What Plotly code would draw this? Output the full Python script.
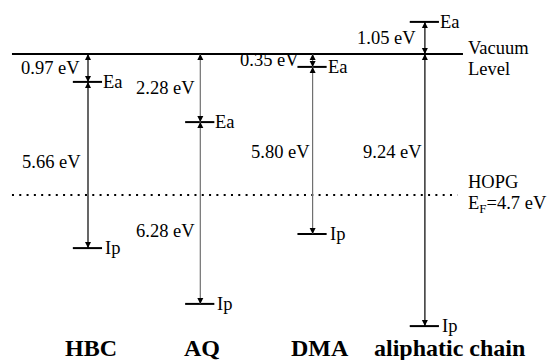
import plotly.graph_objects as go

# ---- data (energies in eV relative to the vacuum level, as drawn) ----
molecules = ["HBC", "AQ", "DMA", "aliphatic chain"]
ea_level = [-0.93, -2.27, -0.43, 1.07]
ip_level = [-6.47, -8.33, -6.00, -9.07]
ea_text = ["0.97 eV", "2.28 eV", "0.35 eV", "1.05 eV"]
gap_text = ["5.66 eV", "6.28 eV", "5.80 eV", "9.24 eV"]
vacuum_level = 0.0
hopg_fermi = -4.7

# ---- styling / layout helpers ----
arrow_colors = ["#000000", "#707070", "#707070", "#000000"]
gap_label_y = [-3.6, -5.9, -3.27, -3.27]
ea_label_shift = [-6, -3, -12, -7]
gap_label_shift = [-5, -3, -1, -1]
name_shift = [3, 2, 7, 25]
FONT = "Liberation Serif"
FS = 18.5

fig = go.Figure()
annotations = []

# vacuum level and HOPG Fermi level
fig.add_trace(go.Scatter(x=[-0.677, 3.339], y=[vacuum_level, vacuum_level], mode="lines",
                         line=dict(color="black", width=2.2), hoverinfo="skip"))
fig.add_trace(go.Scatter(x=[-0.677, 3.29], y=[hopg_fermi, hopg_fermi], mode="lines",
                         line=dict(color="black", width=2, dash="2px,5.3px"), hoverinfo="skip"))

def head(x, tip, up):
    annotations.append(dict(x=x, y=tip, ax=0, ay=(7 if up else -7), xref="x", yref="y",
                            text="", showarrow=True, arrowhead=2, arrowsize=1.0,
                            arrowwidth=1.2, arrowcolor="black", standoff=0))

for i, m in enumerate(molecules):
    ea, ip = ea_level[i], ip_level[i]
    col = arrow_colors[i]
    # energy levels
    for lv in (ea, ip):
        fig.add_trace(go.Scatter(x=[i - 0.135, i + 0.125], y=[lv, lv], mode="lines",
                                 line=dict(color="black", width=2), hoverinfo="skip"))
    # segment 1: vacuum <-> Ea
    top1, bot1 = max(vacuum_level, ea), min(vacuum_level, ea)
    fig.add_trace(go.Scatter(x=[i, i], y=[top1, bot1], mode="lines",
                             line=dict(color=col, width=1.2), hoverinfo="skip"))
    head(i, top1, True)
    head(i, bot1, False)
    # segment 2: (lower of vacuum/Ea) <-> Ip
    top2 = bot1
    fig.add_trace(go.Scatter(x=[i, i], y=[top2, ip], mode="lines",
                             line=dict(color=col, width=1.2), hoverinfo="skip"))
    head(i, top2, True)
    head(i, ip, False)

    # texts
    annotations.append(dict(x=i, y=(vacuum_level + ea) / 2, text=ea_text[i], showarrow=False,
                            xanchor="right", xshift=ea_label_shift[i],
                            font=dict(family=FONT, size=FS, color="black")))
    annotations.append(dict(x=i, y=gap_label_y[i], text=gap_text[i], showarrow=False,
                            xanchor="right", xshift=gap_label_shift[i],
                            font=dict(family=FONT, size=FS, color="black")))
    annotations.append(dict(x=i, y=ea, text="Ea", showarrow=False, xanchor="left", xshift=13,
                            font=dict(family=FONT, size=FS, color="black")))
    annotations.append(dict(x=i, y=ip, text="Ip", showarrow=False, xanchor="left", xshift=15,
                            font=dict(family=FONT, size=FS, color="black")))
    annotations.append(dict(x=i, y=-9.8, text="<b>%s</b>" % m, showarrow=False,
                            xanchor="center", yanchor="middle", xshift=name_shift[i],
                            font=dict(family=FONT, size=24, color="black")))

side_labels = [("Vacuum", 0.2), ("Level", -0.5), ("HOPG", -4.27), ("E<sub>F</sub>=4.7 eV", -5.0)]
for txt, yy in side_labels:
    annotations.append(dict(x=3.37, y=yy, text=txt, showarrow=False, xanchor="left",
                            align="left", font=dict(family=FONT, size=FS, color="black")))

fig.update_layout(
    width=553, height=360, margin=dict(l=0, r=0, t=0, b=0),
    paper_bgcolor="white", plot_bgcolor="white", showlegend=False,
    xaxis=dict(range=[-0.7836, 4.1407], visible=False, fixedrange=True),
    yaxis=dict(range=[-10.2, 1.8], visible=False, fixedrange=True),
    annotations=annotations,
)
fig.write_html("out.html", config={"displayModeBar": False},
               post_script="document.body.style.margin='0px';document.body.style.padding='0px';")
